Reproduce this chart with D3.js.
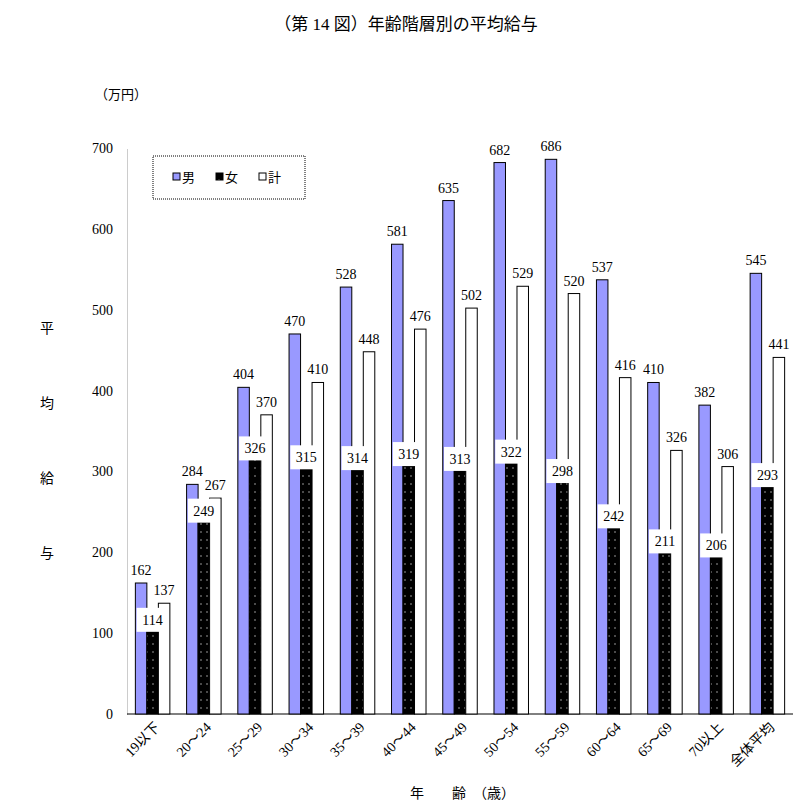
<!DOCTYPE html><html><head><meta charset="utf-8"><script src="https://cdn.jsdelivr.net/npm/d3@7"></script>
<style>body{margin:0;background:#fff}text{font-family:"Liberation Serif","Noto Sans CJK JP",serif}</style></head><body><svg width="812" height="805"></svg>
<script>
const categories=["19以下","20～24","25～29","30～34","35～39","40～44","45～49","50～54","55～59","60～64","65～69","70以上","全体平均"];
const male=[162,284,404,470,528,581,635,682,686,537,410,382,545];
const female=[114,249,326,315,314,319,313,322,298,242,211,206,293];
const total=[137,267,370,410,448,476,502,529,520,416,326,306,441];
const yTicks=[0,100,200,300,400,500,600,700];
const svg=d3.select("svg");
const defs=svg.append("defs");
const p=defs.append("pattern").attr("id","dots").attr("width",6).attr("height",8).attr("patternUnits","userSpaceOnUse");
p.append("rect").attr("width",6).attr("height",8).attr("fill","#000");
p.append("circle").attr("cx",3).attr("cy",4).attr("r",0.7).attr("fill","#ccc");
const x=d3.scaleBand().domain(categories).range([127,793]);
const y=d3.scaleLinear().domain([0,700]).range([714,148]);
const bw=11.5;
svg.append("text").attr("x",406).attr("y",30).attr("text-anchor","middle").attr("font-size",17).text("（第 14 図）年齢階層別の平均給与");
svg.append("text").attr("x",95).attr("y",99).attr("font-size",13).text("（万円）");
["平","均","給","与"].forEach((c,i)=>svg.append("text").attr("x",47).attr("y",333+i*75).attr("text-anchor","middle").attr("font-size",14).text(c));
svg.append("text").attr("x",410).attr("y",798).attr("font-size",14).attr("xml:space","preserve").text("年　　齢　（歳）");
const yg=svg.append("g").attr("transform","translate(127,0)").call(d3.axisLeft(y).tickValues(yTicks).tickSize(0).tickPadding(14));
yg.select(".domain").attr("stroke","#999").attr("stroke-dasharray","1,1");
yg.selectAll("text").attr("font-size",14).attr("font-family","Liberation Serif");
svg.append("line").attr("x1",127).attr("x2",793).attr("y1",714).attr("y2",714).attr("stroke","#000");
const g=svg.append("g");
categories.forEach((c,i)=>{
 const x0=x(c)+x.bandwidth()/2-bw*1.5;
 g.append("rect").attr("x",x0).attr("y",y(male[i])).attr("width",bw).attr("height",714-y(male[i])).attr("fill","#9999ff").attr("stroke","#000");
 g.append("rect").attr("x",x0+bw).attr("y",y(female[i])).attr("width",bw).attr("height",714-y(female[i])).attr("fill","url(#dots)").attr("stroke","#000");
 g.append("rect").attr("x",x0+2*bw).attr("y",y(total[i])).attr("width",bw).attr("height",714-y(total[i])).attr("fill","#fff").attr("stroke","#000");
 g.append("text").attr("x",x0+bw/2).attr("y",y(male[i])-8).attr("text-anchor","middle").attr("font-size",14).text(male[i]);
 g.append("text").attr("x",x0+2.5*bw).attr("y",y(total[i])-8).attr("text-anchor","middle").attr("font-size",14).text(total[i]);
 const fy=y(female[i])-2;
 g.append("rect").attr("x",x0+bw*1.5-16).attr("y",fy-12).attr("width",32).attr("height",24).attr("fill","#fff");
 g.append("text").attr("x",x0+bw*1.5).attr("y",fy+5).attr("text-anchor","middle").attr("font-size",14).text(female[i]);
 g.append("text").attr("transform",`translate(${x(c)+x.bandwidth()/2+8},728) rotate(-45)`).attr("text-anchor","end").attr("font-size",14).text(c);
});
const lg=svg.append("g");
lg.append("rect").attr("x",153).attr("y",156).attr("width",152).attr("height",43).attr("fill","none").attr("stroke","#000").attr("stroke-dasharray","1,1");
[["男","#9999ff"],["女","url(#dots)"],["計","#fff"]].forEach((d,i)=>{
 lg.append("rect").attr("x",173+i*43).attr("y",173).attr("width",7).attr("height",7).attr("fill",d[1]).attr("stroke","#000");
 lg.append("text").attr("x",182+i*43).attr("y",182).attr("font-size",13).text(d[0]);
});
</script></body></html>
